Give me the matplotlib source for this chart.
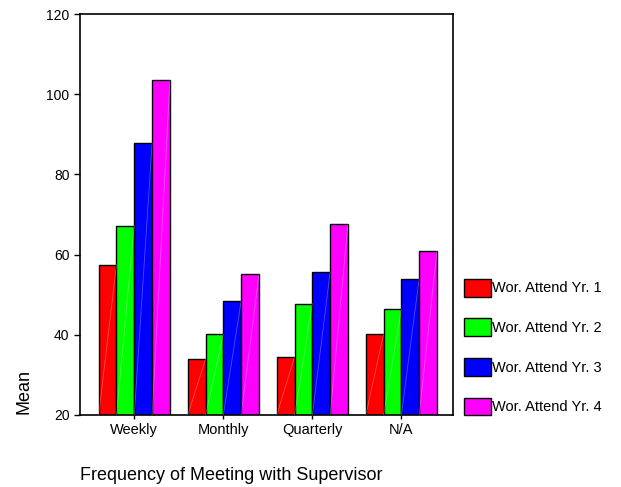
import matplotlib
matplotlib.use("Agg")
import matplotlib.pyplot as plt
import numpy as np

plt.rcParams['font.family'] = ['Liberation Sans', 'DejaVu Sans']
plt.rcParams['font.size'] = 10

# categories and series means
categories = ["Weekly", "Monthly", "Quarterly", "N/A"]
series_names = ["Wor. Attend Yr. 1", "Wor. Attend Yr. 2",
                "Wor. Attend Yr. 3", "Wor. Attend Yr. 4"]
yr1 = [57.5, 33.9, 34.5, 40.1]
yr2 = [67.2, 40.1, 47.8, 46.4]
yr3 = [87.9, 48.4, 55.7, 54.0]
yr4 = [103.5, 55.1, 67.7, 61.0]
colors = ["#ff0000", "#00ff00", "#0000ff", "#ff00ff"]
yticks = [20, 40, 60, 80, 100, 120]

fig = plt.figure(figsize=(6.21, 4.87), dpi=100)
ax = fig.add_axes([80 / 621, 1 - 415 / 487, 373 / 621, 401 / 487])

x = np.arange(len(categories))
width = 0.2
handles = []
for i, (vals, col, name) in enumerate(zip([yr1, yr2, yr3, yr4], colors, series_names)):
    pos = x + (i - 1.5) * width
    b = ax.bar(pos, np.array(vals) - 20, width, bottom=20, color=col,
               edgecolor="black", linewidth=1.0, label=name, zorder=2)
    handles.append(b)
    # faint diagonal inside each bar
    for p, v in zip(pos, vals):
        ax.plot([p - width / 2, p + width / 2], [20, v], color="white",
                alpha=0.3, linewidth=0.6, zorder=3)

ax.set_xlim(-0.61, 3.58)
ax.set_ylim(20, 120)
ax.set_yticks(yticks)
ax.set_xticks(x)
ax.set_xticklabels(categories, fontsize=10.5)
ax.tick_params(axis="x", length=3, width=1, direction="out", pad=3)
ax.tick_params(axis="y", length=4, width=1, direction="out")
for s in ax.spines.values():
    s.set_linewidth(1.2)

fig.text(24 / 621, 1 - 392 / 487, "Mean", rotation=90, ha="center",
         va="center", fontsize=13)
fig.text(80 / 621, 1 - 475 / 487, "Frequency of Meeting with Supervisor",
         ha="left", va="center", fontsize=13)

fig.legend(handles=handles, labels=series_names, loc="upper left",
           bbox_to_anchor=(458 / 621, 1 - 273 / 487), frameon=False,
           fontsize=10.5, handlelength=1.86, handleheight=1.49,
           handletextpad=0.1, labelspacing=1.5, borderaxespad=0)

fig.savefig("out.png", dpi=100)
